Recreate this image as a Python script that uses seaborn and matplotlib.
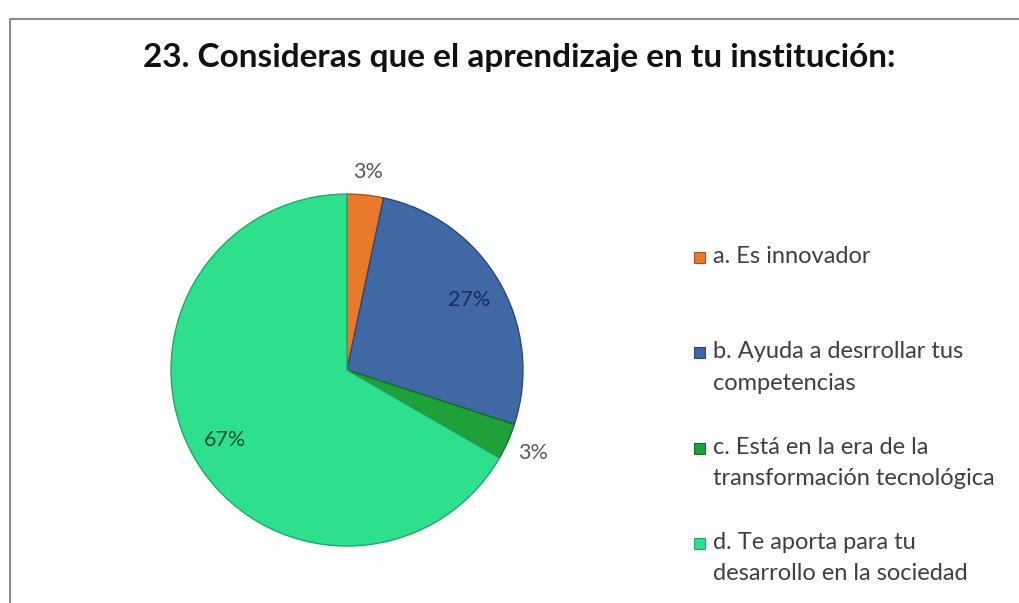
import numpy as np
import matplotlib.pyplot as plt
import matplotlib.patches as mpatches
from matplotlib.lines import Line2D
import seaborn as sns

# datos de la pregunta 23 (30 encuestados)
categorias = ["a. Es innovador",
              "b. Ayuda a desrrollar tus\ncompetencias",
              "c. Está en la era de la\ntransformación tecnológica",
              "d. Te aporta para tu\ndesarrollo en la sociedad"]
conteos = [1, 8, 1, 20]
colores = ["#E8782A", "#4068A5", "#1FA038", "#2EDF8E"]
bordes = ["#A3531B", "#2B4A7A", "#137024", "#20A86A"]
color_etiqueta = ["#595959", "#1C2E55", "#595959", "#0E5530"]
dist_etiqueta = [1.13, 0.80, 1.16, 0.80]
titulo = "23. Consideras que el aprendizaje en tu institución:"

sns.set_theme(style="white")
plt.rcParams['font.family'] = ['Lato', 'DejaVu Sans']

fig = plt.figure(figsize=(10.19, 6.03), dpi=100)
fig.patch.set_facecolor("white")

# marco gris del grafico
fig.add_artist(Line2D([10/1019, 10/1019, 1.0], [0.0, 1 - 19/603, 1 - 19/603],
                      transform=fig.transFigure, color="#8c8c8c", lw=1.5))

ax = fig.add_axes([0.1678, 0.0945, 0.3454, 0.5837])
wedges, _ = ax.pie(conteos, colors=colores, startangle=90, counterclock=False,
                   wedgeprops=dict(linewidth=1.0))
for w, b in zip(wedges, bordes):
    w.set_edgecolor(b)
ax.set_xlim(-1, 1)
ax.set_ylim(-1, 1)
ax.set_aspect("equal")
ax.axis("off")

total = sum(conteos)
for w, n, d, c in zip(wedges, conteos, dist_etiqueta, color_etiqueta):
    ang = np.deg2rad((w.theta1 + w.theta2) / 2)
    ax.text(d * np.cos(ang), d * np.sin(ang), f"{round(100 * n / total)}%",
            ha="center", va="center", fontsize=15.5, color=c)

fig.text(519/1019, 1 - 57/603, titulo, ha="center", va="center",
         fontsize=24, fontweight="bold", color="#111111")

# leyenda manual (cada entrada a la misma distancia)
for i, (lab, col, b) in enumerate(zip(categorias, colores, bordes)):
    yc = 257 + i * 95.3
    fig.patches.append(mpatches.Rectangle((694/1019, 1 - (yc + 6)/603), 11/1019, 11/603,
                                          transform=fig.transFigure, facecolor=col,
                                          edgecolor=b, lw=0.8))
    fig.text(713/1019, 1 - (yc - 11)/603, lab, ha="left", va="top",
             fontsize=17, color="#404040", linespacing=1.62)

fig.savefig("out.png", dpi=100, facecolor="white")
